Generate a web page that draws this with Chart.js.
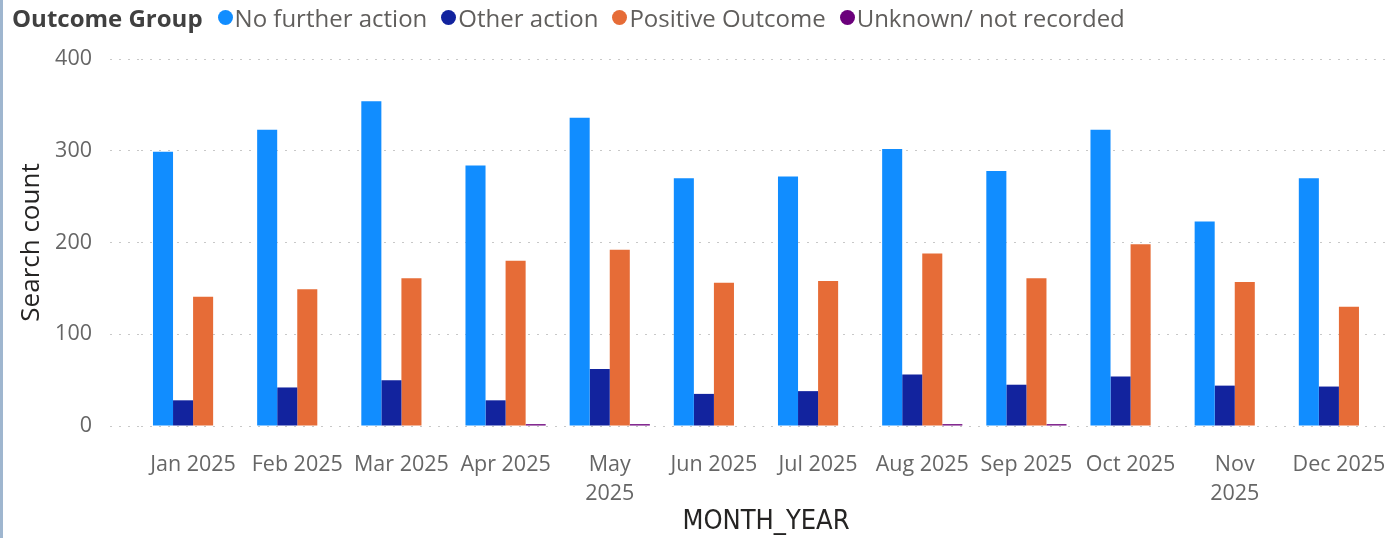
<!DOCTYPE html>
<html>
<head>
<meta charset="utf-8">
<script src="https://cdn.jsdelivr.net/npm/chart.js@4.4.1/dist/chart.umd.min.js"></script>
<style>
  html, body { margin: 0; padding: 0; background: #fff; }
  body { width: 1391px; height: 538px; overflow: hidden; position: relative; }
  #edge { position: absolute; left: 0; top: 0; width: 3px; height: 538px; background: #9fb6cf; }
  #legend { position: absolute; left: 12px; top: 1px; height: 32px; display: flex; align-items: center;
    font-family: "Open Sans", "Noto Sans", sans-serif; font-size: 24px; color: #605e5c; white-space: nowrap; }
  #legend .title { font-weight: bold; color: #404040; margin-right: 15px; }
  #legend .item { display: flex; align-items: center; margin-right: 14px; }
  #legend .dot { width: 15px; height: 15px; border-radius: 50%; margin-right: 2px; }
  #wrap { position: absolute; left: 0; top: 0; width: 1391px; height: 538px; }
</style>
</head>
<body>
<div id="edge"></div>
<div id="wrap"><canvas id="chart"></canvas></div>
<div id="legend"></div>
<script>
'use strict';

// Months (x categories)
const months = ['Jan 2025', 'Feb 2025', 'Mar 2025', 'Apr 2025', ['May', '2025'], 'Jun 2025',
  'Jul 2025', 'Aug 2025', 'Sep 2025', 'Oct 2025', ['Nov', '2025'], 'Dec 2025'];

// Search counts per outcome group
const noFurtherAction = [299, 323, 354, 284, 336, 270, 272, 302, 278, 323, 223, 270];
const otherAction = [28, 42, 50, 28, 62, 35, 38, 56, 45, 54, 44, 43];
const positiveOutcome = [141, 149, 161, 180, 192, 156, 158, 188, 161, 198, 157, 130];
const unknownNotRecorded = [0, 0, 0, 2, 2, 0, 0, 2, 2, 0, 0, 0];

const yTicks = [0, 100, 200, 300, 400];

const FONT = '"Open Sans", "Noto Sans", sans-serif';

const ctx = document.getElementById('chart').getContext('2d');
const chart = new Chart(ctx, {
  type: 'bar',
  data: {
    labels: months,
    datasets: [
      { label: 'No further action', data: noFurtherAction, backgroundColor: '#118DFF' },
      { label: 'Other action', data: otherAction, backgroundColor: '#12239E' },
      { label: 'Positive Outcome', data: positiveOutcome, backgroundColor: '#E66C37' },
      { label: 'Unknown/ not recorded', data: unknownNotRecorded, backgroundColor: '#6B007B' }
    ]
  },
  options: {
    responsive: true,
    maintainAspectRatio: false,
    animation: false,
    layout: { padding: { top: 59, left: 16, right: 0, bottom: 0 } },
    datasets: { bar: { categoryPercentage: 0.77, barPercentage: 1.0 } },
    plugins: {
      legend: { display: false },
      tooltip: { enabled: false }
    },
    scales: {
      x: {
        afterFit: s => { s.height = 538 - 426; },
        // hidden tick marks keep the gap under the plot without adding side padding
        grid: { display: false, drawTicks: true, tickLength: 22 },
        border: { display: false },
        ticks: { color: '#666', font: { family: FONT, size: 21.5, lineHeight: 1.35 }, padding: 2,
          maxRotation: 0, autoSkip: false },
        title: { display: true, text: 'MONTH_YEAR', color: '#252423',
          font: { family: '"DejaVu Sans Condensed", "DejaVu Sans", sans-serif', size: 27 },
          padding: { top: 0, bottom: 0 } }
      },
      y: {
        min: 0, max: 400,
        afterBuildTicks: s => { s.ticks = yTicks.map(v => ({ value: v })); },
        afterFit: s => { s.width = 141 - 16; },
        grid: { color: '#c8c8c8', drawTicks: true, tickLength: 31,
          tickColor: '#c8c8c8', tickBorderDash: [2, 7] },
        border: { display: false, dash: [2, 7] },
        ticks: { color: '#666', font: { family: FONT, size: 21.5 }, padding: 18 },
        title: { display: true, text: 'Search count', color: '#252423',
          font: { family: FONT, size: 26 }, padding: 0 }
      }
    }
  }
});

// HTML legend with the inline group title
const legend = document.getElementById('legend');
legend.innerHTML = '<span class="title">Outcome Group</span>' + chart.data.datasets.map(ds =>
  `<span class="item"><span class="dot" style="background:${ds.backgroundColor}"></span>${ds.label}</span>`
).join('');
</script>
</body>
</html>
